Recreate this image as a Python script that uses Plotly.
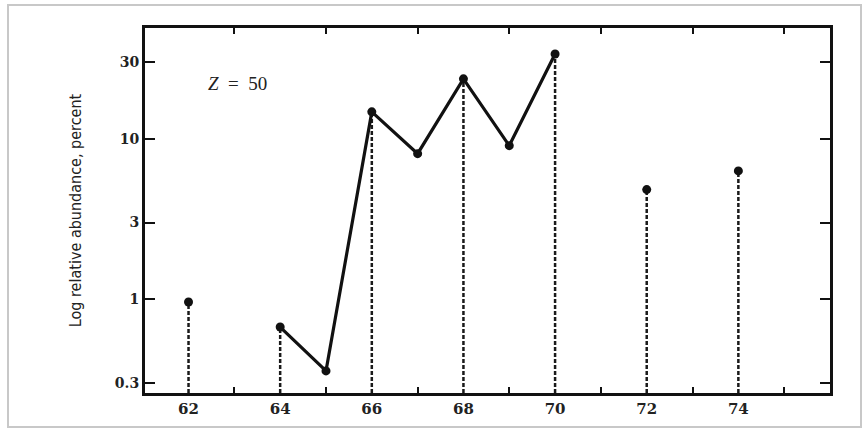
import plotly.graph_objects as go
import math

# Data
mass_numbers = [62, 64, 65, 66, 67, 68, 69, 70, 72, 74]
abundance = [0.96, 0.67, 0.357, 14.7, 8.07, 23.6, 9.05, 33.7, 4.82, 6.3]
# connected segment (64..70)
line_x = [64, 65, 66, 67, 68, 69, 70]
# stems at even mass numbers
stem_x = [62, 64, 66, 68, 70, 72, 74]
x_tick_labels = ["62", "64", "66", "68", "70", "72", "74"]
x_minor = [63, 65, 67, 69, 71, 73, 75]
y_tick_vals = [0.3, 1, 3, 10, 30]
y_tick_text = ["0.3", "1", "3", "10", "30"]

xrange = [61.05, 76.0]
yrange_log = [-0.585, 1.69]
ybottom = 10 ** yrange_log[0]

val = dict(zip(mass_numbers, abundance))

fig = go.Figure()

# dashed stems
sx, sy = [], []
for x in stem_x:
    sx += [x, x, None]
    sy += [ybottom, val[x], None]
fig.add_trace(go.Scatter(x=sx, y=sy, mode="lines",
                         line=dict(color="#1a1a1a", width=2.5, dash="4px,2px"),
                         hoverinfo="skip", showlegend=False))

# solid connecting line
fig.add_trace(go.Scatter(x=line_x, y=[val[x] for x in line_x], mode="lines",
                         line=dict(color="#111", width=3.2),
                         showlegend=False))

# markers
fig.add_trace(go.Scatter(x=mass_numbers, y=abundance, mode="markers",
                         marker=dict(color="#111", size=9, symbol="circle"),
                         showlegend=False))

serif = "Liberation Serif, DejaVu Serif, serif"
tickserif = "DejaVu Serif, Liberation Serif, serif"

fig.update_layout(
    width=863, height=430,
    margin=dict(l=145, r=33, t=28, b=37),
    paper_bgcolor="white", plot_bgcolor="white",
    xaxis=dict(range=xrange, tickvals=stem_x, ticktext=x_tick_labels,
               ticks="", showgrid=False, zeroline=False,
               showline=True, linecolor="#111", linewidth=3, mirror="ticks",
               minor=dict(tickvals=x_minor, ticks="inside", ticklen=6,
                          tickwidth=2, tickcolor="#111"),
               tickfont=dict(family=tickserif, size=15, color="#222",
                             weight="bold")),
    yaxis=dict(type="log", range=yrange_log, tickvals=y_tick_vals,
               ticktext=y_tick_text, ticks="inside", ticklen=10, tickwidth=2,
               tickcolor="#111", showgrid=False, zeroline=False,
               showline=True, linecolor="#111", linewidth=3, mirror="ticks",
               tickfont=dict(family=tickserif, size=14, color="#222",
                             weight="bold"),
               title=dict(text="Log relative abundance, percent",
                          font=dict(family="DejaVu Sans Condensed, Liberation Sans Narrow, Liberation Serif, serif",
                                    size=16, color="#222"),
                          standoff=30)),
    annotations=[dict(x=63.07, y=math.log10(22.2), xref="x", yref="y",
                      text="<i>Z</i>&nbsp;&nbsp;=&nbsp;&nbsp;50", showarrow=False,
                      font=dict(family=serif, size=19, color="#222"))],
    shapes=[dict(type="rect", xref="paper", yref="paper",
                 x0=(8 - 145) / 685, x1=(861 - 145) / 685,
                 y0=(393 - 427) / 365, y1=(393 - 5) / 365,
                 line=dict(color="#c8c8c8", width=2), layer="below")],
)

fig.write_html("out.html", config={"displayModeBar": False},
               post_script="document.body.style.margin='0';document.body.style.overflow='hidden';")
